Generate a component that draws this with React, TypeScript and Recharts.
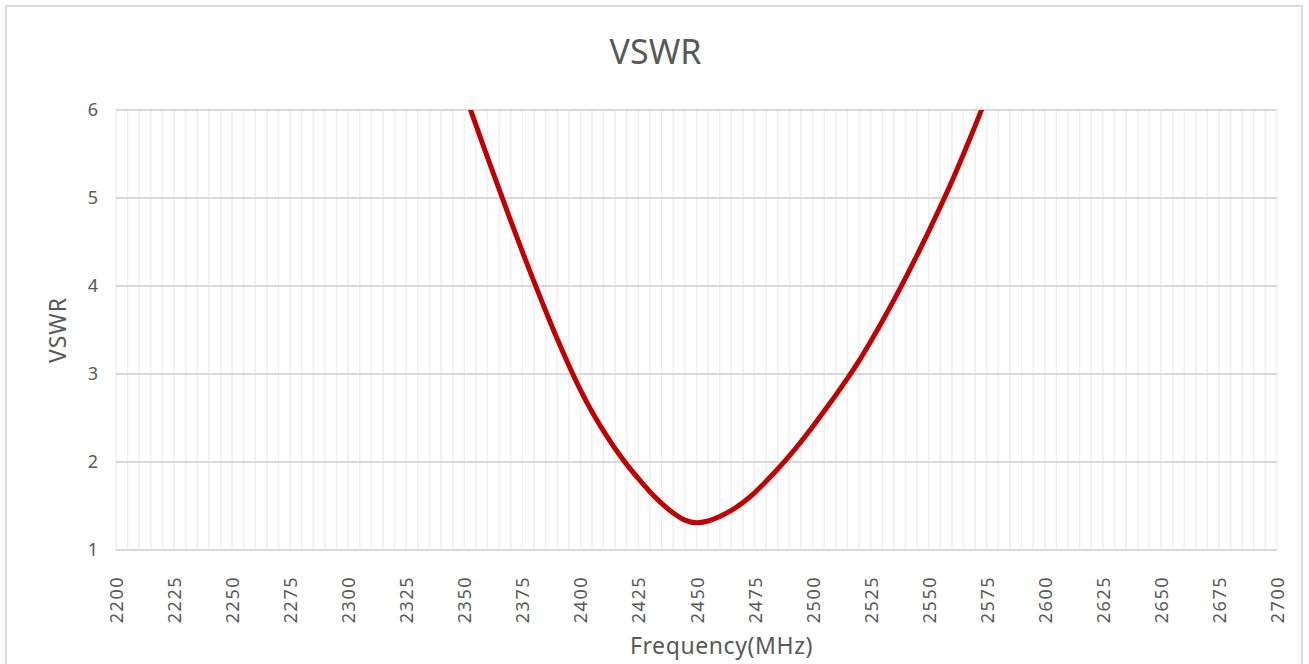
import { LineChart, Line, XAxis, YAxis, CartesianGrid } from 'recharts';

// frequency (MHz) sampled every 5 MHz across the visible part of the curve
const frequencies = [
  2350, 2355, 2360, 2365, 2370, 2375, 2380, 2385, 2390, 2395,
  2400, 2405, 2410, 2415, 2420, 2425, 2430, 2435, 2440, 2445,
  2450, 2455, 2460, 2465, 2470, 2475, 2480, 2485, 2490, 2495,
  2500, 2505, 2510, 2515, 2520, 2525, 2530, 2535, 2540, 2545,
  2550, 2555, 2560, 2565, 2570, 2575,
];

const vswrValues = [
  6.20, 5.83, 5.46, 5.10, 4.74, 4.39, 4.05, 3.72, 3.40, 3.10,
  2.82, 2.57, 2.35, 2.15, 1.97, 1.81, 1.66, 1.53, 1.42, 1.34,
  1.31, 1.33, 1.38, 1.45, 1.54, 1.65, 1.78, 1.92, 2.07, 2.23,
  2.40, 2.58, 2.76, 2.95, 3.15, 3.37, 3.60, 3.84, 4.09, 4.35,
  4.62, 4.90, 5.19, 5.50, 5.82, 6.15,
];

const X_DOMAIN = [2200, 2700];

const xTicks = [
  2200, 2225, 2250, 2275, 2300, 2325, 2350, 2375, 2400, 2425, 2450,
  2475, 2500, 2525, 2550, 2575, 2600, 2625, 2650, 2675, 2700,
];

// minor gridlines every 5 MHz
const xMinorTicks = Array.from({ length: 101 }, (_, i) => 2200 + i * 5);

const yTicks = [1, 2, 3, 4, 5, 6];

const data = frequencies.map((f, i) => ({ freq: f, vswr: vswrValues[i] }));

const FONT = '"Noto Sans", "Open Sans", sans-serif';
const TEXT = '#595959';

const RotatedTick = ({ x, y, payload }: any) => (
  <text
    x={x}
    y={y + 18}
    transform={`rotate(-90, ${x}, ${y + 18})`}
    textAnchor="end"
    dominantBaseline="central"
    fill={TEXT}
    fontSize={18}
    letterSpacing={1.5}
    fontFamily={FONT}
  >
    {payload.value}
  </text>
);

// map the minor ticks onto the plot area (same linear mapping as the x axis)
const minorVerticals = ({ offset }: any) =>
  xMinorTicks.map(
    (t) => offset.left + ((t - X_DOMAIN[0]) / (X_DOMAIN[1] - X_DOMAIN[0])) * offset.width
  );

const App = () => {
  return (
    <div style={{ position: 'absolute', left: 0, top: 0, width: 1309, height: 664, overflow: 'hidden', background: '#fff' }}>
      <div
        style={{
          position: 'absolute',
          left: 5,
          top: 5,
          width: 1298,
          height: 700,
          border: '2px solid #d9d9d9',
          boxSizing: 'border-box',
        }}
      />
      <div
        style={{
          position: 'absolute',
          left: 0,
          width: 1311,
          top: 28,
          textAlign: 'center',
          fontFamily: FONT,
          fontSize: 34,
          color: TEXT,
          lineHeight: '46px',
        }}
      >
        VSWR
      </div>
      <div style={{ position: 'absolute', left: 0, top: 0 }}>
        <LineChart
          width={1309}
          height={664}
          data={data}
          margin={{ top: 110, right: 32, bottom: 0, left: 0 }}
        >
          <CartesianGrid
            horizontal={false}
            stroke="#efefef"
            strokeWidth={1.5}
            verticalCoordinatesGenerator={minorVerticals}
          />
          <CartesianGrid
            vertical={false}
            stroke="#d9d9d9"
            strokeWidth={2}
          />
          <XAxis
            dataKey="freq"
            type="number"
            domain={X_DOMAIN}
            ticks={xTicks}
            interval={0}
            height={114}
            axisLine={{ stroke: '#d9d9d9', strokeWidth: 2 }}
            tickLine={false}
            tick={<RotatedTick />}
            label={{
              value: 'Frequency(MHz)',
              position: 'insideBottom',
              offset: 10,
              dx: 25,
              fill: TEXT,
              fontSize: 23,
              letterSpacing: 0.6,
              fontFamily: FONT,
            }}
          />
          <YAxis
            type="number"
            domain={[1, 6]}
            ticks={yTicks}
            allowDataOverflow
            width={116}
            axisLine={false}
            tickLine={false}
            tickSize={0}
            tickMargin={18}
            tick={{ fill: TEXT, fontSize: 18, fontFamily: FONT }}
            label={{
              value: 'VSWR',
              angle: -90,
              position: 'insideLeft',
              offset: 58,
              fill: TEXT,
              fontSize: 23,
              letterSpacing: 1,
              fontFamily: FONT,
              style: { textAnchor: 'middle' },
            }}
          />
          <Line
            type="monotone"
            dataKey="vswr"
            stroke="#C00000"
            strokeWidth={5}
            dot={false}
            isAnimationActive={false}
          />
        </LineChart>
      </div>
    </div>
  );
};

export default App;
